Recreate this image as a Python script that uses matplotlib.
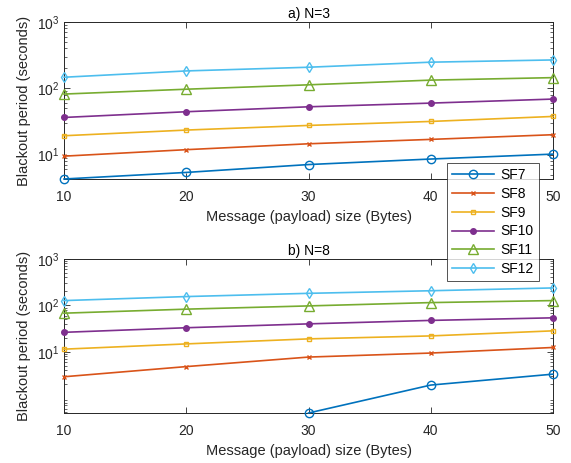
import numpy as np
import matplotlib
matplotlib.use("Agg")
import matplotlib.pyplot as plt
from matplotlib.ticker import LogLocator, NullFormatter, FixedLocator, LogFormatterMathtext

plt.rcParams['font.family'] = ['Liberation Sans', 'DejaVu Sans']
plt.rcParams['mathtext.fontset'] = 'custom'
plt.rcParams['mathtext.rm'] = 'Liberation Sans'

payload = [10, 20, 30, 40, 50]
series_names = ["SF7", "SF8", "SF9", "SF10", "SF11", "SF12"]

# Panel a) N=3
n3_sf7 = [4.3, 5.4, 7.1, 8.6, 10.2]
n3_sf8 = [9.5, 11.9, 14.6, 17.0, 20.0]
n3_sf9 = [19.3, 23.5, 27.6, 31.7, 37.7]
n3_sf10 = [36.4, 44.4, 52.7, 59.9, 68.9]
n3_sf11 = [82, 97, 113, 133, 145]
n3_sf12 = [147, 183, 208, 248, 268]

# Panel b) N=8 (SF7 has no valid values at 10 and 20 bytes)
n8_sf7 = [np.nan, np.nan, 0.48, 1.92, 3.3]
n8_sf8 = [2.9, 4.8, 7.7, 9.4, 12.4]
n8_sf9 = [11.4, 14.8, 19.0, 22.0, 28.3]
n8_sf10 = [26.3, 33.0, 40.0, 47.5, 54.0]
n8_sf11 = [68, 83, 97.5, 115, 127]
n8_sf12 = [127, 155, 182, 207, 238]

panel_titles = ["a) N=3", "b) N=8"]
xlabel_text = "Message (payload) size (Bytes)"
ylabel_text = "Blackout period (seconds)"

colors = ['#0072BD', '#D95319', '#EDB120', '#7E2F8E', '#77AC30', '#4DBEEE']
markers = ['o', 'x', 's', '.', '^', 'd']
msizes = [6, 3.5, 3.5, 8, 6.5, 5]
fills = ['none', 'full', 'none', 'full', 'none', 'none']

fig = plt.figure(figsize=(5.71, 4.63), dpi=100)
ax1 = fig.add_axes([64/571, (463-179)/463, 489/571, 157/463])
ax2 = fig.add_axes([64/571, (463-413)/463, 489/571, 154/463])

data_sets = [
    [n3_sf7, n3_sf8, n3_sf9, n3_sf10, n3_sf11, n3_sf12],
    [n8_sf7, n8_sf8, n8_sf9, n8_sf10, n8_sf11, n8_sf12],
]
ylims = [(n3_sf7[0], 1000), (n8_sf7[2], 1000)]

handles = []
for k, (ax, ds) in enumerate(zip([ax1, ax2], data_sets)):
    for i, vals in enumerate(ds):
        h, = ax.plot(payload, vals, color=colors[i], marker=markers[i],
                     markersize=msizes[i], fillstyle=fills[i],
                     markerfacecolor='none' if fills[i] == 'none' else colors[i],
                     markeredgewidth=1.0, linewidth=1.2, label=series_names[i],
                     clip_on=False, zorder=3)
        if k == 0:
            handles.append(h)
    ax.set_yscale('log')
    ax.set_xlim(10, 50)
    ax.set_ylim(*ylims[k])
    ax.set_xticks(payload)
    ax.yaxis.set_major_locator(FixedLocator([10, 100, 1000]))
    ax.yaxis.set_major_formatter(LogFormatterMathtext())
    ax.yaxis.set_minor_locator(LogLocator(base=10, subs=np.arange(2, 10), numticks=20))
    ax.yaxis.set_minor_formatter(NullFormatter())
    ax.tick_params(which='both', direction='in', top=True, right=True,
                   labelsize=10, colors='#262626')
    ax.tick_params(which='major', length=4, width=0.6)
    ax.tick_params(which='minor', length=2, width=0.5)
    ax.tick_params(axis='x', pad=8)
    for s in ax.spines.values():
        s.set_color('#262626')
        s.set_linewidth(0.7)
    ax.set_title(panel_titles[k], fontsize=10, color='#000000', pad=3)
    ax.set_xlabel(xlabel_text, fontsize=10.5, color='#262626', labelpad=4)
    ax.set_ylabel(ylabel_text, fontsize=10.5, color='#262626', labelpad=4)

leg = fig.legend(handles=handles, loc='upper left',
                 bbox_to_anchor=(447/571, (463-163)/463),
                 fontsize=10, frameon=True, fancybox=False,
                 edgecolor='#262626', handlelength=3.0, handletextpad=0.5,
                 labelspacing=0.35, borderpad=0.35, borderaxespad=0)
leg.get_frame().set_linewidth(0.7)
leg.set_zorder(10)

fig.savefig('out.png', dpi=100, facecolor='white')
